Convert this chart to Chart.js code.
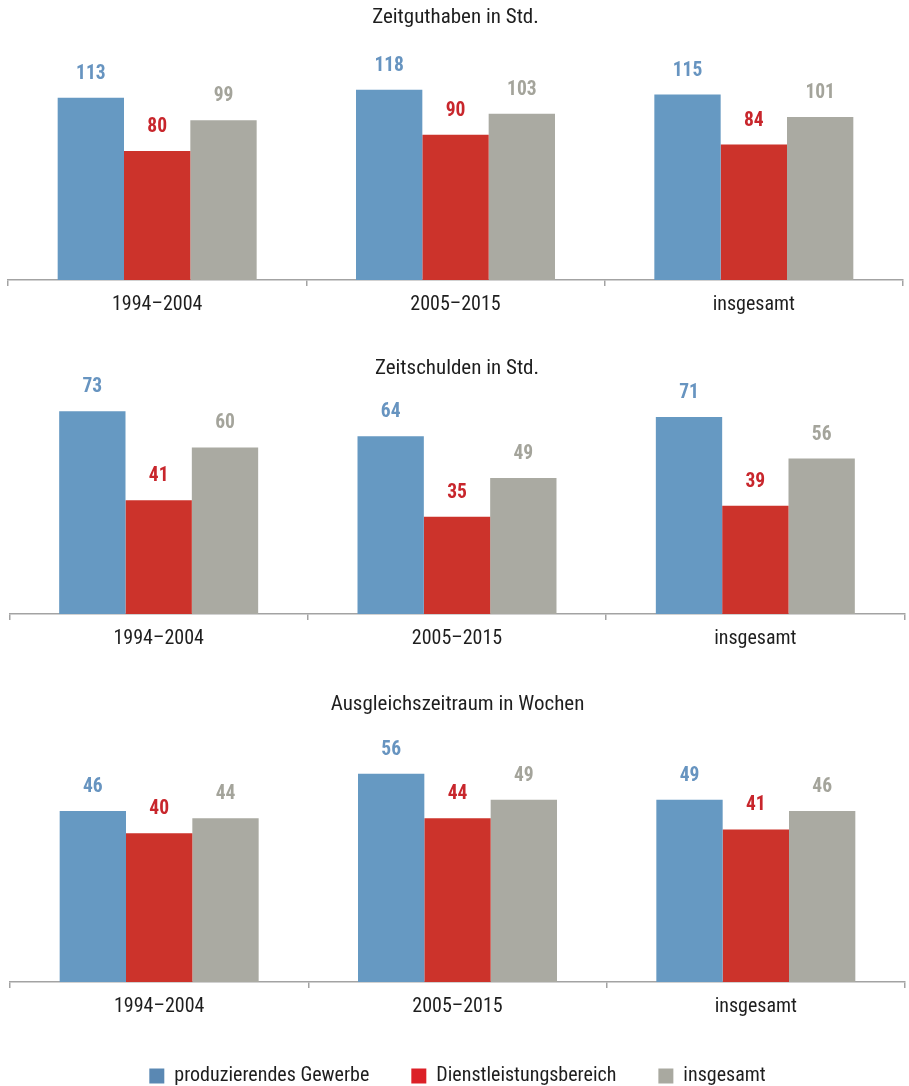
<!DOCTYPE html>
<html lang="de">
<head>
<meta charset="utf-8">
<title>Arbeitszeitkonten nach Wirtschaftsbereich</title>
<script src="https://cdn.jsdelivr.net/npm/chart.js@4.4.1/dist/chart.umd.min.js"></script>
<style>
  html, body { margin: 0; padding: 0; background: #ffffff; overflow: hidden; }
  body { width: 909px; height: 1086px; position: relative; }
  canvas { position: absolute; left: 0; }
</style>
</head>
<body>
<canvas id="c1"></canvas>
<canvas id="c2"></canvas>
<canvas id="c3"></canvas>
<script>
// ---- data ----
const categories = ['1994–2004', '2005–2015', 'insgesamt'];
const seriesNames = ['produzierendes Gewerbe', 'Dienstleistungsbereich', 'insgesamt'];
const panelTitles = ['Zeitguthaben in Std.', 'Zeitschulden in Std.', 'Ausgleichszeitraum in Wochen'];

const guthabenProduzierend = [113, 118, 115];
const guthabenDienstleistung = [80, 90, 84];
const guthabenInsgesamt = [99, 103, 101];

const schuldenProduzierend = [73, 64, 71];
const schuldenDienstleistung = [41, 35, 39];
const schuldenInsgesamt = [60, 49, 56];

const ausgleichProduzierend = [46, 56, 49];
const ausgleichDienstleistung = [40, 44, 41];
const ausgleichInsgesamt = [44, 49, 46];

// ---- styling ----
// condensed width of Roboto is requested through the weight slot of the font shorthand
const FAMILY = "Roboto, 'DejaVu Sans Condensed', sans-serif";
const COND = 'normal condensed';
const COND_BOLD = 'bold condensed';
const barColors = ['#6699c2', '#cc332b', '#aaaaa2'];
const labelColors = ['#6794c0', '#c8262c', '#a4a49b'];
const legendColors = ['#5a88b3', '#dc2027', '#a9a9a0'];
const axisColor = '#a3a3a3';
const textColor = '#1e1e1e';

// value labels above each bar
const valueLabels = {
  id: 'valueLabels',
  afterDatasetsDraw(chart) {
    const ctx = chart.ctx;
    ctx.save();
    ctx.font = COND_BOLD + ' 19.5px ' + FAMILY;
    ctx.textAlign = 'center';
    ctx.textBaseline = 'alphabetic';
    chart.data.datasets.forEach((ds, di) => {
      const meta = chart.getDatasetMeta(di);
      ctx.fillStyle = labelColors[di];
      meta.data.forEach((bar, i) => {
        ctx.fillText(String(ds.data[i]), bar.x, bar.y - 19);
      });
    });
    ctx.restore();
  }
};

// panel geometry: canvas top, title centre, baseline, px per unit, left/right edge of plot
const panels = [
  { id: 'c1', title: panelTitles[0], series: [guthabenProduzierend, guthabenDienstleistung, guthabenInsgesamt],
    top: 0, titleCenter: 18, baseline: 280, pxPerUnit: 1.613, left: 8, right: 903, legend: false },
  { id: 'c2', title: panelTitles[1], series: [schuldenProduzierend, schuldenDienstleistung, schuldenInsgesamt],
    top: 340, titleCenter: 369, baseline: 614, pxPerUnit: 2.776, left: 9.5, right: 904.5, legend: false },
  { id: 'c3', title: panelTitles[2], series: [ausgleichProduzierend, ausgleichDienstleistung, ausgleichInsgesamt],
    top: 680, titleCenter: 705, baseline: 982, pxPerUnit: 3.72, left: 10, right: 905, legend: true }
];

const TITLE_LH = 24, TITLE_PAD_BOTTOM = 10;
const LEGEND_PAD = 42, LEGEND_FONT = 20;
const LEGEND_H = LEGEND_FONT + LEGEND_PAD + 10;

panels.forEach(p => {
  const canvas = document.getElementById(p.id);
  const titlePadTop = p.titleCenter - p.top - TITLE_LH / 2;
  const areaTop = titlePadTop + TITLE_LH + TITLE_PAD_BOTTOM;
  const areaHeight = p.baseline - p.top - areaTop;
  const yMax = areaHeight / p.pxPerUnit;
  let height, axisH;
  if (p.legend) {
    height = 1096 - p.top;
    axisH = height - LEGEND_H - (p.baseline - p.top);
  } else {
    axisH = 55;
    height = p.baseline - p.top + axisH;
  }
  canvas.width = 909;
  canvas.height = height;
  canvas.style.top = p.top + 'px';
  canvas.style.width = '909px';
  canvas.style.height = height + 'px';

  new Chart(canvas, {
    type: 'bar',
    data: {
      labels: categories,
      datasets: p.series.map((values, i) => ({
        label: seriesNames[i],
        data: values,
        backgroundColor: barColors[i],
        borderWidth: 0,
        categoryPercentage: 0.667,
        barPercentage: 1.0
      }))
    },
    options: {
      responsive: false,
      animation: false,
      devicePixelRatio: 1,
      layout: { padding: { left: p.left, right: 909 - p.right, top: 0, bottom: 0 } },
      scales: {
        x: {
          grid: {
            offset: true,
            drawOnChartArea: false,
            drawTicks: true,
            tickLength: 6,
            color: axisColor,
            lineWidth: 1.5
          },
          border: { display: true, color: axisColor, width: 1.5 },
          ticks: {
            color: textColor,
            padding: 9,
            font: { family: FAMILY, size: 20, weight: COND, lineHeight: '20px' },
            maxRotation: 0
          },
          afterFit(scale) { scale.height = axisH; }
        },
        y: { display: false, min: 0, max: yMax }
      },
      plugins: {
        title: {
          display: true,
          text: p.title,
          color: textColor,
          font: { family: FAMILY, size: 21, weight: COND, lineHeight: TITLE_LH + 'px' },
          padding: { top: titlePadTop, bottom: TITLE_PAD_BOTTOM }
        },
        legend: {
          display: p.legend,
          position: 'bottom',
          labels: {
            boxWidth: 15,
            boxHeight: 15,
            padding: LEGEND_PAD,
            color: textColor,
            font: { family: FAMILY, size: LEGEND_FONT, weight: COND },
            generateLabels: chart => chart.data.datasets.map((ds, i) => ({
              text: ds.label,
              fillStyle: legendColors[i],
              strokeStyle: legendColors[i],
              lineWidth: 0,
              fontColor: textColor,
              datasetIndex: i
            }))
          }
        },
        tooltip: { enabled: false }
      }
    },
    plugins: [valueLabels]
  });
});
</script>
</body>
</html>
